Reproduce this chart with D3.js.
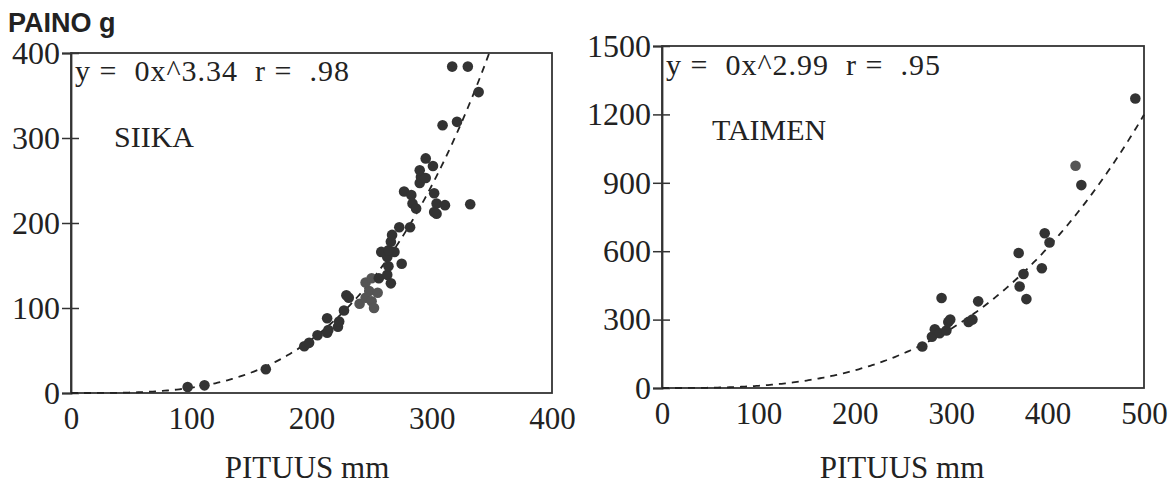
<!DOCTYPE html>
<html><head><meta charset="utf-8">
<script src="https://cdn.jsdelivr.net/npm/d3@7"></script>
<style>
html,body{margin:0;padding:0;background:#fff;}
svg{display:block;}
</style></head>
<body>
<svg id="chart" width="1170" height="492"></svg>
<script>
// ---- SIIKA data (length mm, weight g)
const siikaLength = [97,111,162,194,198,205,213,214,222,223,213,227,229,231,
  240,245,248,250,252,255,245,250,256,263,266,264,275,263,258,269,264,266,267,273,282,
  277,283,284,287,290,291,290,295,295,301,302,304,302,311,304,309,321,317,330,339,332];
const siikaWeight = [7,9,28,55,59,68,71,74,78,84,88,97,115,112,
  105,112,120,108,100,118,130,135,135,139,129,149,152,160,166,166,168,178,186,195,195,
  237,233,223,217,247,254,262,253,276,267,235,223,213,221,211,315,319,384,384,354,222];
// ---- TAIMEN data
const taimenLength = [270,280,283,288,290,295,297,299,318,322,328,370,371,375,378,394,397,402,429,435,491];
const taimenWeight = [182,225,258,240,395,252,290,300,290,300,380,592,445,500,390,525,679,638,975,890,1270];
// ---- fit parameters (y = a x^b), as printed
const siikaFit = {a: 1.30e-6, b: 3.34, xmax: 348};
const taimenFit = {a: 1.02e-5, b: 2.99, xmax: 500};
// ---- tick labels
const siikaXTicks = [0,100,200,300,400];
const siikaYTicks = [0,100,200,300,400];
const taimenXTicks = [0,100,200,300,400,500];
const taimenYTicks = [0,300,600,900,1200,1500];
// ---- texts
const siikaEq = "y =  0x^3.34  r =  .98";
const taimenEq = "y =  0x^2.99  r =  .95";

const SERIF = "'Liberation Serif', 'Times New Roman', Times, 'DejaVu Serif', serif";
const svg = d3.select("#chart");

function serifText(sel, size){
  return sel.attr("font-family", null).style("font-family", SERIF).style("font-size", size + "px").style("fill", "#222");
}

function panel(cfg){
  const {x, y, lengths, weights, fit, xTicks, yTicks, eq, name, nameX, nameY, eqY, greyIdx} = cfg;
  const g = svg.append("g");
  const [x0, x1] = x.range(), [y0, y1] = y.range();
  g.append("rect").attr("x", x0).attr("y", y1).attr("width", x1 - x0).attr("height", y0 - y1)
    .attr("fill", "none").attr("stroke", "#333").attr("stroke-width", 1.8);
  const ya = g.append("g").attr("transform", `translate(${x0},0)`)
    .call(d3.axisLeft(y).tickValues(yTicks).tickSize(9).tickPadding(2).tickFormat(d3.format("d")));
  ya.attr("font-family", null).attr("font-size", null);
  ya.select(".domain").attr("stroke", "#333").attr("stroke-width", 1.8);
  ya.selectAll(".tick line").attr("x1", 8).attr("stroke", "#333").attr("stroke-width", 1.5);
  serifText(ya.selectAll(".tick text"), 32);
  const xa = g.append("g").attr("transform", `translate(0,${y0})`)
    .call(d3.axisBottom(x).tickValues(xTicks).tickSize(0).tickPadding(14).tickFormat(d3.format("d")));
  xa.attr("font-family", null).attr("font-size", null);
  xa.select(".domain").remove();
  serifText(xa.selectAll(".tick text"), 31);
  const xsFit = d3.range(0, fit.xmax + 0.01, 2);
  g.append("path").datum(xsFit)
    .attr("d", d3.line().x(d => x(d)).y(d => y(fit.a * Math.pow(d, fit.b))))
    .attr("fill", "none").attr("stroke", "#222").attr("stroke-width", 1.8)
    .attr("stroke-dasharray", "7,6");
  g.selectAll("circle.pt").data(lengths.map((l, i) => [l, weights[i], i])).join("circle")
    .attr("class", "pt")
    .attr("cx", d => x(d[0])).attr("cy", d => y(d[1])).attr("r", 5.3)
    .attr("fill", d => (greyIdx && greyIdx.includes(d[2])) ? "#555" : "#333");
  serifText(g.append("text").attr("x", x0 + 4).attr("y", eqY)
    .attr("xml:space", "preserve").style("white-space", "pre")
    .style("letter-spacing", "1px").text(eq), 30);
  serifText(g.append("text").attr("x", nameX).attr("y", nameY).text(name), 30);
}

panel({
  x: d3.scaleLinear([0, 400], [71, 552]),
  y: d3.scaleLinear([0, 400], [393, 53]),
  lengths: siikaLength, weights: siikaWeight, fit: siikaFit,
  xTicks: siikaXTicks, yTicks: siikaYTicks, eq: siikaEq, eqY: 81,
  name: "SIIKA", nameX: 114, nameY: 147, greyIdx: [14,15,16,17,18,19,20,21]
});
panel({
  x: d3.scaleLinear([0, 500], [662, 1144]),
  y: d3.scaleLinear([0, 1500], [388, 46]),
  lengths: taimenLength, weights: taimenWeight, fit: taimenFit,
  xTicks: taimenXTicks, yTicks: taimenYTicks, eq: taimenEq, eqY: 75,
  name: "TAIMEN", nameX: 712, nameY: 140, greyIdx: [18]
});

svg.append("text").attr("x", 8).attr("y", 32)
  .style("font-family", "'Liberation Sans', Arial, sans-serif").style("font-size", "27px")
  .style("font-weight", "bold").style("fill", "#222")
  .text("PAINO g");
serifText(svg.append("text").attr("x", 307).attr("y", 478).attr("text-anchor", "middle").text("PITUUS mm"), 31);
serifText(svg.append("text").attr("x", 902).attr("y", 478).attr("text-anchor", "middle").text("PITUUS mm"), 31);
</script>
</body></html>
